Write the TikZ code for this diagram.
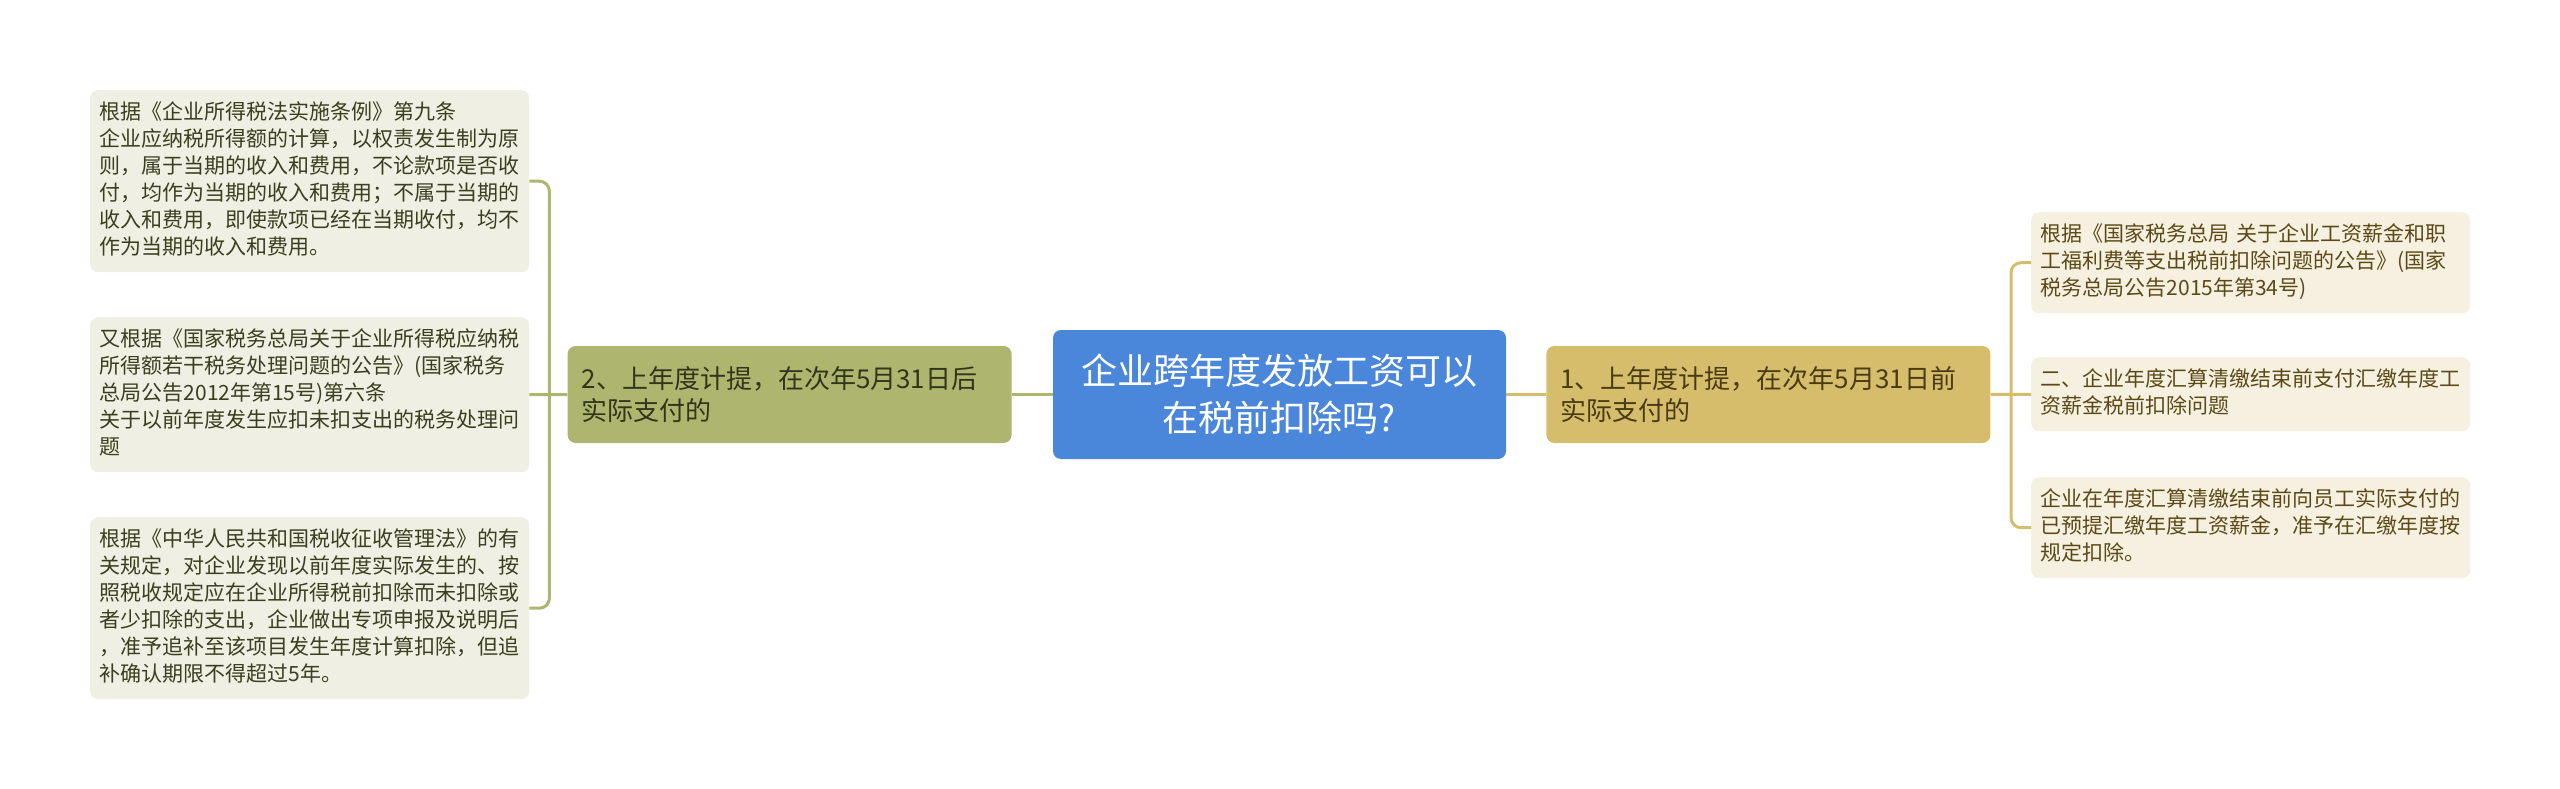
\documentclass[tikz,border=0pt]{standalone}
\usepackage{fontspec}
\setmainfont{Noto Sans CJK SC}
\usetikzlibrary{positioning}
\definecolor{blue0}{HTML}{4A86DA}
\definecolor{olive0}{HTML}{ADB56E}
\definecolor{gold0}{HTML}{D5BD6C}
\definecolor{leafg}{HTML}{EFEFE3}
\definecolor{leafy}{HTML}{F5F0DF}
\definecolor{textg}{HTML}{3A3F1F}
\definecolor{texty}{HTML}{5B4A17}
\begin{document}
\begin{tikzpicture}[x=1pt, y=-1pt, node distance={41pt},
    main/.style = {rounded corners=8pt, fill=blue0, text=white, align=center, font=\fontsize{36}{47}\selectfont, minimum width=453pt, minimum height=129pt},
    sub/.style = {rounded corners=8pt, text width=416pt, inner xsep=14pt, minimum height=97pt, align=left, font=\fontsize{26}{32}\selectfont},
    leaf/.style = {rounded corners=8pt, text width=420pt, inner xsep=9.5pt, inner ysep=10pt, anchor=north west, align=left, font=\fontsize{21}{27}\selectfont, execute at begin node=\strut, execute at end node=\strut},
    lineg/.style = {draw=olive0, line width=3pt},
    liney/.style = {draw=gold0, line width=3pt}]
    \useasboundingbox (0,0) rectangle (2560,789);
    \node[main] (0) at (1279.5,394.5) {企业跨年度发放工资可以\\在税前扣除吗?};
    \node[sub, fill=gold0, text=texty!80!black] (1) [right=40pt of 0] {1、上年度计提，在次年5月31日前\\实际支付的};
    \node[sub, fill=olive0, text=textg!85!black] (2) [left=of 0] {2、上年度计提，在次年5月31日后\\实际支付的};
    \node[leaf, fill=leafy, text=texty] (11) at (2031,212) {根据《国家税务总局 关于企业工资薪金和职\\工福利费等支出税前扣除问题的公告》(国家\\税务总局公告2015年第34号)};
    \node[leaf, fill=leafy, text=texty] (12) at (2031,357) {二、企业年度汇算清缴结束前支付汇缴年度工\\资薪金税前扣除问题};
    \node[leaf, fill=leafy, text=texty] (13) at (2031,477) {企业在年度汇算清缴结束前向员工实际支付的\\已预提汇缴年度工资薪金，准予在汇缴年度按\\规定扣除。};
    \node[leaf, fill=leafg, text=textg] (21) at (90,90) {根据《企业所得税法实施条例》第九条\\企业应纳税所得额的计算，以权责发生制为原\\则，属于当期的收入和费用，不论款项是否收\\付，均作为当期的收入和费用；不属于当期的\\收入和费用，即使款项已经在当期收付，均不\\作为当期的收入和费用。};
    \node[leaf, fill=leafg, text=textg] (22) at (90,317) {又根据《国家税务总局关于企业所得税应纳税\\所得额若干税务处理问题的公告》(国家税务\\总局公告2012年第15号)第六条\\关于以前年度发生应扣未扣支出的税务处理问\\题};
    \node[leaf, fill=leafg, text=textg] (23) at (90,517) {根据《中华人民共和国税收征收管理法》的有\\关规定，对企业发现以前年度实际发生的、按\\照税收规定应在企业所得税前扣除而未扣除或\\者少扣除的支出，企业做出专项申报及说明后\\，准予追补至该项目发生年度计算扣除，但追\\补确认期限不得超过5年。};
    \draw[liney] (0) -- (1);
    \draw[lineg] (0) -- (2);
    \draw[liney] (1) -- (12);
    \draw[liney, rounded corners=10pt] (11.west) -- ++(-20,0) |- (13.west);
    \draw[lineg] (2) -- (22);
    \draw[lineg, rounded corners=10pt] (21.east) -- ++(20,0) |- (23.east);
\end{tikzpicture}
\end{document}
